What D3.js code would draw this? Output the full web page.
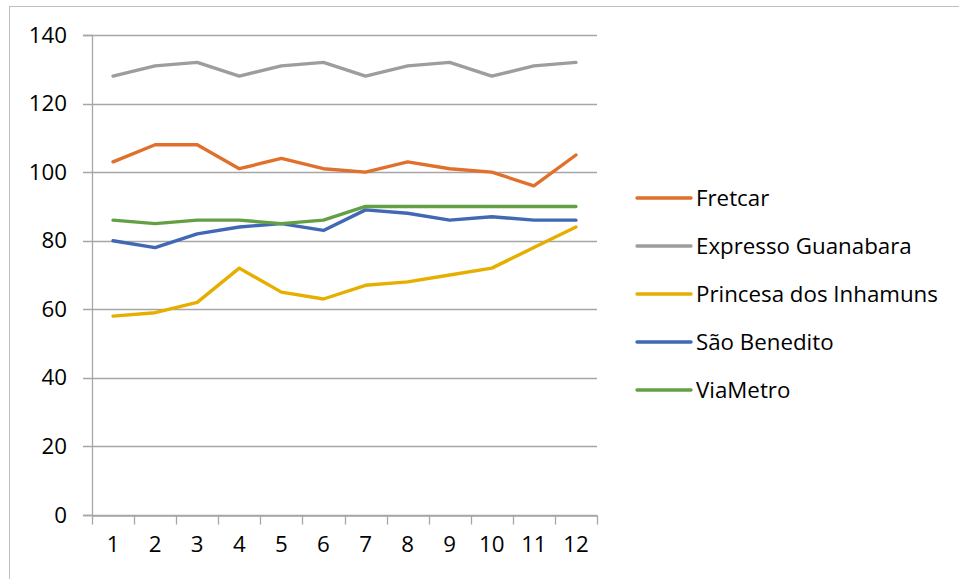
<!DOCTYPE html>
<html>
<head>
<meta charset="utf-8">
<script src="https://cdn.jsdelivr.net/npm/d3@7"></script>
<style>
  body { margin: 0; background: #fff; }
  text { font-family: 'Open Sans', sans-serif; fill: #000; }
</style>
</head>
<body>
<script>
const months = ['1', '2', '3', '4', '5', '6', '7', '8', '9', '10', '11', '12']
const yTicks = [0, 20, 40, 60, 80, 100, 120, 140]

const seriesNames = ['Fretcar', 'Expresso Guanabara', 'Princesa dos Inhamuns', 'São Benedito', 'ViaMetro']
const fretcar = [103, 108, 108, 101, 104, 101, 100, 103, 101, 100, 96, 105]
const expressoGuanabara = [128, 131, 132, 128, 131, 132, 128, 131, 132, 128, 131, 132]
const princesaDosInhamuns = [58, 59, 62, 72, 65, 63, 67, 68, 70, 72, 78, 84]
const saoBenedito = [80, 78, 82, 84, 85, 83, 89, 88, 86, 87, 86, 86]
const viaMetro = [86, 85, 86, 86, 85, 86, 90, 90, 90, 90, 90, 90]

const seriesValues = [fretcar, expressoGuanabara, princesaDosInhamuns, saoBenedito, viaMetro]

function draw() {
  const outerWidth = 959
  const outerHeight = 579
  const margin = { left: 92, top: 35, right: 362, bottom: 64 }

  // colors
  const colors = ['#e0702c', '#9d9d9d', '#e6af00', '#4068b3', '#64a043']
  const gridGray = '#a6a6a6'
  const frameGray = '#c0c0c0'
  const fontSize = 22.3

  const svg = d3.select('body')
    .append('svg')
    .attr('width', outerWidth)
    .attr('height', outerHeight)

  // chart frame (only the top and left edges are in view)
  svg.append('rect')
    .attr('x', 9.5)
    .attr('y', 6.5)
    .attr('width', outerWidth + 20)
    .attr('height', outerHeight + 20)
    .style('fill', 'none')
    .style('stroke', frameGray)
    .style('stroke-width', 1)

  const innerWidth = outerWidth - margin.left - margin.right
  const innerHeight = outerHeight - margin.top - margin.bottom

  const g = svg.append('g')
    .attr('transform', `translate(${margin.left},${margin.top})`)

  const xScale = d3.scaleBand()
    .domain(months)
    .range([0, innerWidth])

  const yScale = d3.scaleLinear()
    .domain([0, 140])
    .range([innerHeight, 0])

  // horizontal gridlines
  g.append('g')
    .selectAll('line')
    .data(yTicks)
    .enter()
    .append('line')
    .attr('x1', -9)
    .attr('x2', innerWidth)
    .attr('y1', d => Math.round(yScale(d)) + 0.5)
    .attr('y2', d => Math.round(yScale(d)) + 0.5)
    .style('stroke', gridGray)
    .style('stroke-width', 1.3)

  // y axis
  const yAxisG = g.append('g')
    .call(d3.axisLeft(yScale).tickValues(yTicks).tickSize(9).tickPadding(16))
  yAxisG.select('.domain').style('stroke', gridGray).style('stroke-width', 1.3)
  yAxisG.selectAll('.tick line').remove()
  yAxisG.selectAll('text')
    .style('font-size', fontSize + 'px')
    .style('font-family', "'Open Sans', sans-serif")

  // x axis with ticks at band edges
  const xAxisG = g.append('g')
    .attr('transform', `translate(0,${Math.round(innerHeight) + 0.5})`)
    .call(d3.axisBottom(xScale).tickSize(0).tickPadding(21))
  xAxisG.select('.domain').style('stroke', gridGray).style('stroke-width', 1.3)
  xAxisG.selectAll('text')
    .style('font-size', fontSize + 'px')
    .style('font-family', "'Open Sans', sans-serif")

  const edges = months.map(m => xScale(m)).concat([innerWidth])
  xAxisG.selectAll('.edge')
    .data(edges)
    .enter()
    .append('line')
    .attr('class', 'edge')
    .attr('x1', d => Math.round(d) + 0.5)
    .attr('x2', d => Math.round(d) + 0.5)
    .attr('y1', 0)
    .attr('y2', 9)
    .style('stroke', gridGray)
    .style('stroke-width', 1.3)

  // lines
  const line = d3.line()
    .x((d, i) => xScale(months[i]) + xScale.bandwidth() / 2)
    .y(d => yScale(d))

  g.selectAll('.series')
    .data(seriesValues)
    .enter()
    .append('path')
    .attr('class', 'series')
    .attr('d', line)
    .style('fill', 'none')
    .style('stroke', (d, i) => colors[i])
    .style('stroke-width', 3.4)
    .style('stroke-linejoin', 'round')
    .style('stroke-linecap', 'round')

  // legend
  const legendG = svg.append('g')
    .attr('transform', 'translate(637,198)')

  const items = legendG.selectAll('.item')
    .data(seriesNames)
    .enter()
    .append('g')
    .attr('class', 'item')
    .attr('transform', (d, i) => `translate(0,${i * 48})`)

  items.append('line')
    .attr('x1', 0)
    .attr('x2', 54)
    .attr('y1', 0)
    .attr('y2', 0)
    .style('stroke', (d, i) => colors[i])
    .style('stroke-width', 3.4)
    .style('stroke-linecap', 'round')

  items.append('text')
    .attr('x', 59)
    .attr('y', 0)
    .attr('dy', '0.35em')
    .style('font-size', fontSize + 'px')
    .text(d => d)
}

draw()
</script>
</body>
</html>
